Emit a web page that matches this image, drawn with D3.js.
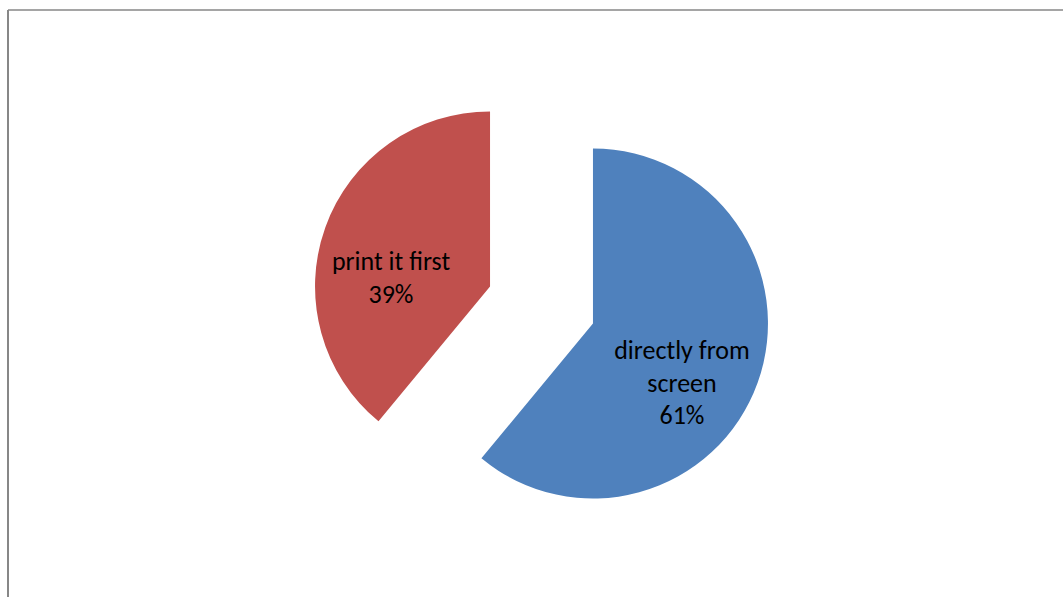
<!DOCTYPE html>
<html><head><meta charset="utf-8">
<script src="https://cdn.jsdelivr.net/npm/d3@7"></script>
<style>body{margin:0;background:#fff}svg{display:block}</style>
</head><body>
<svg id="chart" width="1063" height="597"></svg>
<script>
const categories = ["directly from screen", "print it first"];
const values = [61, 39];
const labelLines = [["directly from", "screen", "61%"], ["print it first", "39%"]];
const colors = ["#4F81BD", "#C0504D"];

const svg = d3.select("#chart");
// chart border (only left and top visible)
svg.append("line").attr("x1", 8).attr("y1", 10).attr("x2", 1063).attr("y2", 10).attr("stroke", "#878787").attr("stroke-width", 1.5);
svg.append("line").attr("x1", 8).attr("y1", 10).attr("x2", 8).attr("y2", 597).attr("stroke", "#878787").attr("stroke-width", 2);

const cx = 541.5, cy = 305, r = 175, explode = 54.7;
const pie = d3.pie().sort(null).value(d => d)(values);
const arc = d3.arc().innerRadius(0).outerRadius(r);
const labelPos = [[682, 359], [391, 270]];

const g = svg.append("g").attr("transform", `translate(${cx},${cy})`);
pie.forEach((p, i) => {
  const mid = (p.startAngle + p.endAngle) / 2;
  const dx = explode * Math.sin(mid), dy = -explode * Math.cos(mid);
  g.append("path").attr("d", arc(p)).attr("fill", colors[i])
    .attr("transform", `translate(${dx},${dy})`);
});
labelLines.forEach((lines, i) => {
  const t = svg.append("text").attr("text-anchor", "middle")
    .attr("font-family", "Carlito, Calibri, 'Liberation Sans', sans-serif")
    .attr("font-size", 26).attr("fill", "#000");
  lines.forEach((l, j) => {
    t.append("tspan").attr("x", labelPos[i][0]).attr("y", labelPos[i][1] + j * 32.5).text(l);
  });
});
</script>
</body></html>
